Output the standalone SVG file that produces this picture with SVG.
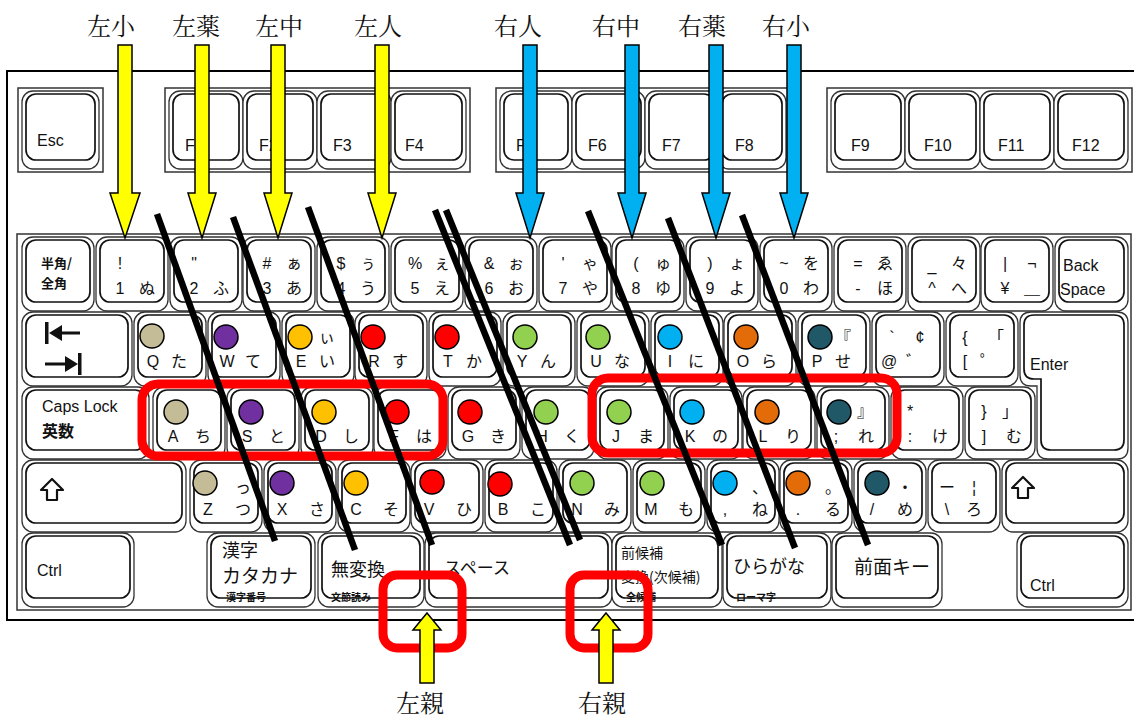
<svg xmlns="http://www.w3.org/2000/svg" width="1134" height="720" viewBox="0 0 1134 720">
<style>
.ko{fill:#fff;stroke:#333;stroke-width:1.3}
.ki{fill:#fff;stroke:#111;stroke-width:1.7}
.grp{fill:#fff;stroke:#333;stroke-width:1.5}
.t{font-family:"Liberation Sans","Noto Sans CJK JP",sans-serif;font-size:16px;fill:#111;text-anchor:middle}
.s{font-family:"Liberation Sans","Noto Sans CJK JP",sans-serif;font-size:16px;fill:#111}
.j{font-family:"Noto Sans CJK JP",sans-serif;fill:#111}
.b{font-weight:bold}
.c{stroke:#000;stroke-width:1.5}
.tan{fill:#C4BC96}.pur{fill:#7030A0}.gold{fill:#FFC000}.red{fill:#FF0000}.grn{fill:#92D050}.blu{fill:#00B0F0}.org{fill:#E36C09}.teal{fill:#215868}
.rb{fill:none;stroke:#FF0000;stroke-width:9}
.ln{stroke:#000;stroke-width:6.5;fill:none}
.ay{fill:#FFFF00;stroke:#000;stroke-width:1.5}
.ab{fill:#00B0F0;stroke:#000;stroke-width:1.5}
.lab{font-family:"Noto Serif CJK JP","Noto Sans CJK JP",serif;font-size:24px;fill:#111;text-anchor:middle}
.ic{fill:#111}
</style>
<rect width="1134" height="720" fill="#fff"/>
<g id="frame">
<rect x="7" y="71" width="1140" height="549" fill="#fff" stroke="#000" stroke-width="2"/>
</g>
<g id="fkeys">
<rect class="grp" x="18" y="88" width="85" height="84"/>
<rect class="grp" x="165" y="88" width="305" height="84"/>
<rect class="grp" x="496" y="88" width="292" height="84"/>
<rect class="grp" x="827" y="88" width="305" height="84"/>
<g id="k-esc"><rect class="ko" x="22" y="91" width="77" height="78" rx="11"/><rect class="ki" x="26" y="94" width="69" height="66" rx="10"/><text class="s" x="37" y="146" font-size="18">Esc</text></g>
<g id="k-f1"><rect class="ko" x="169" y="91" width="74" height="78" rx="11"/><rect class="ki" x="173" y="94" width="66" height="66" rx="10"/><text class="s" x="185" y="151" font-size="17">F1</text></g>
<g id="k-f2"><rect class="ko" x="243" y="91" width="74" height="78" rx="11"/><rect class="ki" x="247" y="94" width="66" height="66" rx="10"/><text class="s" x="259" y="151" font-size="17">F2</text></g>
<g id="k-f3"><rect class="ko" x="317" y="91" width="74" height="78" rx="11"/><rect class="ki" x="321" y="94" width="66" height="66" rx="10"/><text class="s" x="333" y="151" font-size="17">F3</text></g>
<g id="k-f4"><rect class="ko" x="391" y="91" width="75" height="78" rx="11"/><rect class="ki" x="395" y="94" width="67" height="66" rx="10"/><text class="s" x="405" y="151" font-size="17">F4</text></g>
<g id="k-f5"><rect class="ko" x="500" y="91" width="72" height="78" rx="11"/><rect class="ki" x="504" y="94" width="64" height="66" rx="10"/><text class="s" x="516" y="151" font-size="17">F5</text></g>
<g id="k-f6"><rect class="ko" x="572" y="91" width="73" height="78" rx="11"/><rect class="ki" x="576" y="94" width="65" height="66" rx="10"/><text class="s" x="588" y="151" font-size="17">F6</text></g>
<g id="k-f7"><rect class="ko" x="645" y="91" width="73" height="78" rx="11"/><rect class="ki" x="649" y="94" width="65" height="66" rx="10"/><text class="s" x="662" y="151" font-size="17">F7</text></g>
<g id="k-f8"><rect class="ko" x="718" y="91" width="68" height="78" rx="11"/><rect class="ki" x="722" y="94" width="60" height="66" rx="10"/><text class="s" x="735" y="151" font-size="17">F8</text></g>
<g id="k-f9"><rect class="ko" x="831" y="91" width="74" height="78" rx="11"/><rect class="ki" x="835" y="94" width="66" height="66" rx="10"/><text class="s" x="851" y="151" font-size="17">F9</text></g>
<g id="k-f10"><rect class="ko" x="905" y="91" width="75" height="78" rx="11"/><rect class="ki" x="909" y="94" width="67" height="66" rx="10"/><text class="s" x="924" y="151" font-size="17">F10</text></g>
<g id="k-f11"><rect class="ko" x="980" y="91" width="74" height="78" rx="11"/><rect class="ki" x="984" y="94" width="66" height="66" rx="10"/><text class="s" x="998" y="151" font-size="17">F11</text></g>
<g id="k-f12"><rect class="ko" x="1054" y="91" width="74" height="78" rx="11"/><rect class="ki" x="1058" y="94" width="66" height="66" rx="10"/><text class="s" x="1072" y="151" font-size="17">F12</text></g>
</g>
<g id="mainblock">
<rect class="grp" x="17" y="234" width="1114" height="376"/>
<g id="k-hankaku"><rect class="ko" x="22" y="237" width="72" height="74" rx="11"/><rect class="ki" x="26" y="240" width="64" height="62" rx="10"/><text class="j b" x="41" y="268" font-size="13">半角/</text><text class="j b" x="41" y="288" font-size="13">全角</text></g>
<g id="k-1"><rect class="ko" x="96" y="237" width="72" height="74" rx="11"/><rect class="ki" x="100" y="240" width="64" height="62" rx="10"/><text class="t" x="120" y="269">!</text><text class="t" x="120" y="294">1</text><text class="t" x="147" y="294">ぬ</text></g>
<g id="k-2"><rect class="ko" x="170" y="237" width="72" height="74" rx="11"/><rect class="ki" x="174" y="240" width="64" height="62" rx="10"/><text class="t" x="194" y="269">"</text><text class="t" x="194" y="294">2</text><text class="t" x="221" y="294">ふ</text></g>
<g id="k-3"><rect class="ko" x="243" y="237" width="72" height="74" rx="11"/><rect class="ki" x="247" y="240" width="64" height="62" rx="10"/><text class="t" x="267" y="269">#</text><text class="t" x="294" y="269">ぁ</text><text class="t" x="267" y="294">3</text><text class="t" x="294" y="294">あ</text></g>
<g id="k-4"><rect class="ko" x="317" y="237" width="72" height="74" rx="11"/><rect class="ki" x="321" y="240" width="64" height="62" rx="10"/><text class="t" x="341" y="269">$</text><text class="t" x="368" y="269">ぅ</text><text class="t" x="341" y="294">4</text><text class="t" x="368" y="294">う</text></g>
<g id="k-5"><rect class="ko" x="391" y="237" width="72" height="74" rx="11"/><rect class="ki" x="395" y="240" width="64" height="62" rx="10"/><text class="t" x="415" y="269">%</text><text class="t" x="442" y="269">ぇ</text><text class="t" x="415" y="294">5</text><text class="t" x="442" y="294">え</text></g>
<g id="k-6"><rect class="ko" x="465" y="237" width="72" height="74" rx="11"/><rect class="ki" x="469" y="240" width="64" height="62" rx="10"/><text class="t" x="489" y="269">&amp;</text><text class="t" x="516" y="269">ぉ</text><text class="t" x="489" y="294">6</text><text class="t" x="516" y="294">お</text></g>
<g id="k-7"><rect class="ko" x="539" y="237" width="72" height="74" rx="11"/><rect class="ki" x="543" y="240" width="64" height="62" rx="10"/><text class="t" x="563" y="269">'</text><text class="t" x="590" y="269">ゃ</text><text class="t" x="563" y="294">7</text><text class="t" x="590" y="294">や</text></g>
<g id="k-8"><rect class="ko" x="612" y="237" width="72" height="74" rx="11"/><rect class="ki" x="616" y="240" width="64" height="62" rx="10"/><text class="t" x="636" y="269">(</text><text class="t" x="663" y="269">ゅ</text><text class="t" x="636" y="294">8</text><text class="t" x="663" y="294">ゆ</text></g>
<g id="k-9"><rect class="ko" x="686" y="237" width="72" height="74" rx="11"/><rect class="ki" x="690" y="240" width="64" height="62" rx="10"/><text class="t" x="710" y="269">)</text><text class="t" x="737" y="269">ょ</text><text class="t" x="710" y="294">9</text><text class="t" x="737" y="294">よ</text></g>
<g id="k-0"><rect class="ko" x="760" y="237" width="72" height="74" rx="11"/><rect class="ki" x="764" y="240" width="64" height="62" rx="10"/><text class="t" x="784" y="269">~</text><text class="t" x="811" y="269">を</text><text class="t" x="784" y="294">0</text><text class="t" x="811" y="294">わ</text></g>
<g id="k-minus"><rect class="ko" x="834" y="237" width="72" height="74" rx="11"/><rect class="ki" x="838" y="240" width="64" height="62" rx="10"/><text class="t" x="858" y="269">=</text><text class="t" x="885" y="269">ゑ</text><text class="t" x="858" y="294">-</text><text class="t" x="885" y="294">ほ</text></g>
<g id="k-caret"><rect class="ko" x="908" y="237" width="72" height="74" rx="11"/><rect class="ki" x="912" y="240" width="64" height="62" rx="10"/><text class="t" x="932" y="271">_</text><text class="t" x="959" y="269">々</text><text class="t" x="932" y="294">^</text><text class="t" x="959" y="294">へ</text></g>
<g id="k-yen"><rect class="ko" x="981" y="237" width="72" height="74" rx="11"/><rect class="ki" x="985" y="240" width="64" height="62" rx="10"/><text class="t" x="1005" y="269">|</text><text class="t" x="1032" y="269">¬</text><text class="t" x="1005" y="294">¥</text><text class="t" x="1032" y="294">＿</text></g>
<g id="k-bs"><rect class="ko" x="1055" y="237" width="73" height="74" rx="11"/><rect class="ki" x="1059" y="240" width="65" height="62" rx="10"/><text class="s" x="1063" y="271" font-size="18">Back</text><text class="s" x="1060" y="295" font-size="18">Space</text></g>
<g id="k-tab"><rect class="ko" x="22" y="312" width="110" height="74" rx="11"/><rect class="ki" x="26" y="315" width="102" height="62" rx="10"/><rect class="ic" x="45" y="322" width="3.5" height="22"/><polygon class="ic" points="49,333 62,325 62,341"/><rect class="ic" x="60" y="331.5" width="20" height="3"/><rect class="ic" x="45" y="362.5" width="22" height="3"/><polygon class="ic" points="78,364 65,356 65,372"/><rect class="ic" x="78" y="353" width="3.5" height="22"/></g>
<g id="k-q"><rect class="ko" x="134" y="312" width="72" height="74" rx="11"/><rect class="ki" x="138" y="315" width="64" height="62" rx="10"/><text class="t" x="153" y="367">Q</text><text class="t" x="179" y="367">た</text></g>
<g id="k-w"><rect class="ko" x="208" y="312" width="72" height="74" rx="11"/><rect class="ki" x="212" y="315" width="64" height="62" rx="10"/><text class="t" x="227" y="367">W</text><text class="t" x="253" y="367">て</text></g>
<g id="k-e"><rect class="ko" x="282" y="312" width="72" height="74" rx="11"/><rect class="ki" x="286" y="315" width="64" height="62" rx="10"/><text class="t" x="327" y="343">ぃ</text><text class="t" x="301" y="367">E</text><text class="t" x="327" y="367">い</text></g>
<g id="k-r"><rect class="ko" x="355" y="312" width="72" height="74" rx="11"/><rect class="ki" x="359" y="315" width="64" height="62" rx="10"/><text class="t" x="374" y="367">R</text><text class="t" x="400" y="367">す</text></g>
<g id="k-t"><rect class="ko" x="429" y="312" width="72" height="74" rx="11"/><rect class="ki" x="433" y="315" width="64" height="62" rx="10"/><text class="t" x="448" y="367">T</text><text class="t" x="474" y="367">か</text></g>
<g id="k-y"><rect class="ko" x="503" y="312" width="72" height="74" rx="11"/><rect class="ki" x="507" y="315" width="64" height="62" rx="10"/><text class="t" x="522" y="367">Y</text><text class="t" x="548" y="367">ん</text></g>
<g id="k-u"><rect class="ko" x="577" y="312" width="72" height="74" rx="11"/><rect class="ki" x="581" y="315" width="64" height="62" rx="10"/><text class="t" x="596" y="367">U</text><text class="t" x="622" y="367">な</text></g>
<g id="k-i"><rect class="ko" x="651" y="312" width="72" height="74" rx="11"/><rect class="ki" x="655" y="315" width="64" height="62" rx="10"/><text class="t" x="670" y="367">I</text><text class="t" x="696" y="367">に</text></g>
<g id="k-o"><rect class="ko" x="724" y="312" width="72" height="74" rx="11"/><rect class="ki" x="728" y="315" width="64" height="62" rx="10"/><text class="t" x="743" y="367">O</text><text class="t" x="769" y="367">ら</text></g>
<g id="k-p"><rect class="ko" x="798" y="312" width="72" height="74" rx="11"/><rect class="ki" x="802" y="315" width="64" height="62" rx="10"/><text class="t" x="843" y="343">『</text><text class="t" x="817" y="367">P</text><text class="t" x="843" y="367">せ</text></g>
<g id="k-at"><rect class="ko" x="872" y="312" width="72" height="74" rx="11"/><rect class="ki" x="876" y="315" width="64" height="62" rx="10"/><text class="t" x="892" y="343">`</text><text class="t" x="920" y="343">¢</text><text class="t" x="889" y="367">@</text><text class="t" x="914" y="367">゛</text></g>
<g id="k-lbr"><rect class="ko" x="946" y="312" width="72" height="74" rx="11"/><rect class="ki" x="950" y="315" width="64" height="62" rx="10"/><text class="t" x="965" y="343">{</text><text class="t" x="996" y="343">「</text><text class="t" x="965" y="367">[</text><text class="t" x="988" y="367">゜</text></g>
<g id="k-enter"><path class="ko" d="M1031,312 H1117 Q1128,312 1128,323 V448 Q1128,459 1117,459 H1048 Q1037,459 1037,448 V386 H1031 Q1020,386 1020,375 V323 Q1020,312 1031,312 Z"/><path class="ki" d="M1034,315 H1114 Q1124,315 1124,325 V440 Q1124,450 1114,450 H1051 Q1041,450 1041,440 V379 H1034 Q1024,379 1024,369 V325 Q1024,315 1034,315 Z"/><text class="s" x="1030" y="370" font-size="17">Enter</text></g>
<g id="k-caps"><rect class="ko" x="22" y="387" width="127" height="72" rx="11"/><rect class="ki" x="26" y="390" width="119" height="60" rx="10"/><text class="s" x="42" y="412" font-size="17">Caps Lock</text><text class="j b" x="42" y="437" font-size="16">英数</text></g>
<g id="k-a"><rect class="ko" x="153" y="387" width="72" height="72" rx="11"/><rect class="ki" x="157" y="390" width="64" height="60" rx="10"/><text class="t" x="173" y="442">A</text><text class="t" x="203" y="442">ち</text></g>
<g id="k-s"><rect class="ko" x="227" y="387" width="72" height="72" rx="11"/><rect class="ki" x="231" y="390" width="64" height="60" rx="10"/><text class="t" x="247" y="442">S</text><text class="t" x="277" y="442">と</text></g>
<g id="k-d"><rect class="ko" x="301" y="387" width="72" height="72" rx="11"/><rect class="ki" x="305" y="390" width="64" height="60" rx="10"/><text class="t" x="321" y="442">D</text><text class="t" x="351" y="442">し</text></g>
<g id="k-f"><rect class="ko" x="374" y="387" width="72" height="72" rx="11"/><rect class="ki" x="378" y="390" width="64" height="60" rx="10"/><text class="t" x="394" y="442">F</text><text class="t" x="424" y="442">は</text></g>
<g id="k-g"><rect class="ko" x="448" y="387" width="72" height="72" rx="11"/><rect class="ki" x="452" y="390" width="64" height="60" rx="10"/><text class="t" x="468" y="442">G</text><text class="t" x="498" y="442">き</text></g>
<g id="k-h"><rect class="ko" x="522" y="387" width="72" height="72" rx="11"/><rect class="ki" x="526" y="390" width="64" height="60" rx="10"/><text class="t" x="542" y="442">H</text><text class="t" x="572" y="442">く</text></g>
<g id="k-j"><rect class="ko" x="596" y="387" width="72" height="72" rx="11"/><rect class="ki" x="600" y="390" width="64" height="60" rx="10"/><text class="t" x="616" y="442">J</text><text class="t" x="646" y="442">ま</text></g>
<g id="k-k"><rect class="ko" x="670" y="387" width="72" height="72" rx="11"/><rect class="ki" x="674" y="390" width="64" height="60" rx="10"/><text class="t" x="690" y="442">K</text><text class="t" x="720" y="442">の</text></g>
<g id="k-l"><rect class="ko" x="743" y="387" width="72" height="72" rx="11"/><rect class="ki" x="747" y="390" width="64" height="60" rx="10"/><text class="t" x="763" y="442">L</text><text class="t" x="793" y="442">り</text></g>
<g id="k-semi"><rect class="ko" x="817" y="387" width="72" height="72" rx="11"/><rect class="ki" x="821" y="390" width="64" height="60" rx="10"/><text class="t" x="865" y="417">』</text><text class="t" x="836" y="442">;</text><text class="t" x="866" y="442">れ</text></g>
<g id="k-colon"><rect class="ko" x="891" y="387" width="72" height="72" rx="11"/><rect class="ki" x="895" y="390" width="64" height="60" rx="10"/><text class="t" x="910" y="417">*</text><text class="t" x="910" y="442">:</text><text class="t" x="940" y="442">け</text></g>
<g id="k-rbr"><rect class="ko" x="965" y="387" width="70" height="72" rx="11"/><rect class="ki" x="969" y="390" width="62" height="60" rx="10"/><text class="t" x="984" y="417">}</text><text class="t" x="1010" y="417">」</text><text class="t" x="984" y="442">]</text><text class="t" x="1014" y="442">む</text></g>
<g id="k-lshift"><rect class="ko" x="22" y="460" width="164" height="72" rx="11"/><rect class="ki" x="26" y="463" width="156" height="60" rx="10"/><polygon points="52,479 63,490 57,490 57,500 47,500 47,490 41,490" fill="#fff" stroke="#111" stroke-width="2.2" stroke-linejoin="round"/></g>
<g id="k-z"><rect class="ko" x="190" y="460" width="72" height="72" rx="11"/><rect class="ki" x="194" y="463" width="64" height="60" rx="10"/><text class="t" x="243" y="493">っ</text><text class="t" x="208" y="515">Z</text><text class="t" x="243" y="515">つ</text></g>
<g id="k-x"><rect class="ko" x="264" y="460" width="72" height="72" rx="11"/><rect class="ki" x="268" y="463" width="64" height="60" rx="10"/><text class="t" x="282" y="515">X</text><text class="t" x="317" y="515">さ</text></g>
<g id="k-c"><rect class="ko" x="338" y="460" width="72" height="72" rx="11"/><rect class="ki" x="342" y="463" width="64" height="60" rx="10"/><text class="t" x="356" y="515">C</text><text class="t" x="391" y="515">そ</text></g>
<g id="k-v"><rect class="ko" x="411" y="460" width="72" height="72" rx="11"/><rect class="ki" x="415" y="463" width="64" height="60" rx="10"/><text class="t" x="429" y="515">V</text><text class="t" x="464" y="515">ひ</text></g>
<g id="k-b"><rect class="ko" x="485" y="460" width="72" height="72" rx="11"/><rect class="ki" x="489" y="463" width="64" height="60" rx="10"/><text class="t" x="503" y="515">B</text><text class="t" x="538" y="515">こ</text></g>
<g id="k-n"><rect class="ko" x="559" y="460" width="72" height="72" rx="11"/><rect class="ki" x="563" y="463" width="64" height="60" rx="10"/><text class="t" x="577" y="515">N</text><text class="t" x="612" y="515">み</text></g>
<g id="k-m"><rect class="ko" x="633" y="460" width="72" height="72" rx="11"/><rect class="ki" x="637" y="463" width="64" height="60" rx="10"/><text class="t" x="651" y="515">M</text><text class="t" x="686" y="515">も</text></g>
<g id="k-comma"><rect class="ko" x="707" y="460" width="72" height="72" rx="11"/><rect class="ki" x="711" y="463" width="64" height="60" rx="10"/><text class="t" x="760" y="493">、</text><text class="t" x="725" y="515">,</text><text class="t" x="760" y="515">ね</text></g>
<g id="k-period"><rect class="ko" x="780" y="460" width="72" height="72" rx="11"/><rect class="ki" x="784" y="463" width="64" height="60" rx="10"/><text class="t" x="833" y="493">。</text><text class="t" x="798" y="515">.</text><text class="t" x="833" y="515">る</text></g>
<g id="k-slash"><rect class="ko" x="854" y="460" width="72" height="72" rx="11"/><rect class="ki" x="858" y="463" width="64" height="60" rx="10"/><text class="t" x="905" y="493">・</text><text class="t" x="872" y="515">/</text><text class="t" x="905" y="515">め</text></g>
<g id="k-bslash"><rect class="ko" x="928" y="460" width="72" height="72" rx="11"/><rect class="ki" x="932" y="463" width="64" height="60" rx="10"/><text class="t" x="947" y="493">ー</text><text class="t" x="974" y="493">¦</text><text class="t" x="947" y="515">\</text><text class="t" x="974" y="515">ろ</text></g>
<g id="k-rshift"><rect class="ko" x="1002" y="460" width="126" height="72" rx="11"/><rect class="ki" x="1006" y="463" width="118" height="60" rx="10"/><polygon points="1023,477 1034,488 1028,488 1028,498 1018,498 1018,488 1012,488" fill="#fff" stroke="#111" stroke-width="2.2" stroke-linejoin="round"/></g>
<g id="k-lctrl"><rect class="ko" x="22" y="533" width="112" height="74" rx="11"/><rect class="ki" x="26" y="536" width="104" height="62" rx="10"/><text class="s" x="37" y="576" font-size="18">Ctrl</text></g>
<g id="k-kanji"><rect class="ko" x="207" y="533" width="108" height="74" rx="11"/><rect class="ki" x="211" y="536" width="100" height="62" rx="10"/><text class="j" x="222" y="557" font-size="18">漢字</text><text class="j" x="222" y="583" font-size="19">カタカナ</text><text class="j b" x="226" y="601" font-size="10">漢字番号</text></g>
<g id="k-muhenkan"><rect class="ko" x="318" y="533" width="106" height="74" rx="11"/><rect class="ki" x="322" y="536" width="98" height="62" rx="10"/><text class="j" x="331" y="576" font-size="18">無変換</text><text class="j b" x="331" y="601" font-size="10">文節読み</text></g>
<g id="k-space"><rect class="ko" x="425" y="533" width="187" height="74" rx="11"/><rect class="ki" x="429" y="536" width="179" height="62" rx="10"/><text class="j" x="444" y="574" font-size="17">スペース</text></g>
<g id="k-henkan"><rect class="ko" x="612" y="533" width="110" height="74" rx="11"/><rect class="ki" x="616" y="536" width="102" height="62" rx="10"/><text class="j" x="621" y="558" font-size="14">前候補</text><text class="j" x="621" y="582" font-size="14">変換(次候補)</text><text class="j b" x="626" y="601" font-size="10">全候補</text></g>
<g id="k-hiragana"><rect class="ko" x="723" y="533" width="108" height="74" rx="11"/><rect class="ki" x="727" y="536" width="100" height="62" rx="10"/><text class="j" x="733" y="573" font-size="18">ひらがな</text><text class="j b" x="736" y="601" font-size="10">ローマ字</text></g>
<g id="k-zenmen"><rect class="ko" x="832" y="533" width="110" height="74" rx="11"/><rect class="ki" x="836" y="536" width="102" height="62" rx="10"/><text class="j" x="854" y="574" font-size="19">前面キー</text></g>
<g id="k-rctrl"><rect class="ko" x="1017" y="533" width="111" height="74" rx="11"/><rect class="ki" x="1021" y="536" width="103" height="62" rx="10"/><text class="s" x="1030" y="591" font-size="18">Ctrl</text></g>
</g>
<g id="dots">
<circle class="c tan" cx="152" cy="336" r="12"/><circle class="c pur" cx="226" cy="337" r="12"/><circle class="c gold" cx="300" cy="337" r="12"/><circle class="c red" cx="373" cy="337" r="12"/><circle class="c red" cx="447" cy="337" r="12"/><circle class="c grn" cx="525" cy="337" r="12"/><circle class="c grn" cx="598" cy="337" r="12"/><circle class="c blu" cx="670" cy="337" r="12"/><circle class="c org" cx="746" cy="337" r="12"/><circle class="c teal" cx="820" cy="337" r="12"/>
<circle class="c tan" cx="176" cy="412" r="12"/><circle class="c pur" cx="251" cy="412" r="12"/><circle class="c gold" cx="324" cy="412" r="12"/><circle class="c red" cx="397" cy="412" r="12"/><circle class="c red" cx="470" cy="412" r="12"/><circle class="c grn" cx="546" cy="412" r="12"/><circle class="c grn" cx="619" cy="412" r="12"/><circle class="c blu" cx="692" cy="412" r="12"/><circle class="c org" cx="767" cy="412" r="12"/><circle class="c teal" cx="839" cy="412" r="12"/>
<circle class="c tan" cx="205" cy="483" r="12"/><circle class="c pur" cx="282" cy="483" r="12"/><circle class="c gold" cx="356" cy="483" r="12"/><circle class="c red" cx="432" cy="482" r="12"/><circle class="c red" cx="500" cy="484" r="12"/><circle class="c grn" cx="582" cy="483" r="12"/><circle class="c grn" cx="652" cy="483" r="12"/><circle class="c blu" cx="725" cy="483" r="12"/><circle class="c org" cx="798" cy="483" r="12"/><circle class="c teal" cx="877" cy="483" r="12"/>
</g>
<g id="home-boxes">
<rect class="rb" x="142" y="384" width="301" height="72" rx="16"/>
<rect class="rb" x="592" y="378" width="305" height="75" rx="16"/>
<rect class="rb" x="383" y="575" width="79" height="73" rx="14"/>
<rect class="rb" x="570" y="575" width="78" height="73" rx="14"/>
</g>
<g id="connectors">
<line class="ln" x1="157" y1="214" x2="275" y2="541"/>
<line class="ln" x1="233" y1="217" x2="355" y2="550"/>
<line class="ln" x1="308" y1="207" x2="432" y2="545"/>
<line class="ln" x1="435" y1="210" x2="570" y2="545"/>
<line class="ln" x1="446" y1="210" x2="580" y2="540"/>
<line class="ln" x1="588" y1="211" x2="722" y2="545"/>
<line class="ln" x1="668" y1="218" x2="795" y2="548"/>
<line class="ln" x1="742" y1="215" x2="868" y2="545"/>
<polygon class="ay" points="118,45 132,45 132,193 140,193 125,238 110,193 118,193"/>
<polygon class="ay" points="195,45 209,45 209,193 216,193 202,238 188,193 195,193"/>
<polygon class="ay" points="271,45 285,45 285,193 292,193 278,238 264,193 271,193"/>
<polygon class="ay" points="375,45 389,45 389,193 396,193 382,238 368,193 375,193"/>
<polygon class="ab" points="523,45 537,45 537,193 544,193 530,238 516,193 523,193"/>
<polygon class="ab" points="625,45 639,45 639,193 646,193 632,238 618,193 625,193"/>
<polygon class="ab" points="709,45 723,45 723,193 730,193 716,238 702,193 709,193"/>
<polygon class="ab" points="787,45 801,45 801,193 808,193 794,238 780,193 787,193"/>
<polygon class="ay" points="427,613 441,630 434,630 434,683 420,683 420,630 413,630"/>
<polygon class="ay" points="606,613 620,630 613,630 613,683 599,683 599,630 592,630"/>
</g>
<g id="labels">
<text class="lab" x="111" y="35">左小</text>
<text class="lab" x="196" y="35">左薬</text>
<text class="lab" x="279" y="35">左中</text>
<text class="lab" x="378" y="35">左人</text>
<text class="lab" x="518" y="35">右人</text>
<text class="lab" x="616" y="35">右中</text>
<text class="lab" x="702" y="35">右薬</text>
<text class="lab" x="786" y="35">右小</text>
<text class="lab" x="420" y="712" font-size="25">左親</text>
<text class="lab" x="602" y="712" font-size="25">右親</text>
</g>
</svg>
